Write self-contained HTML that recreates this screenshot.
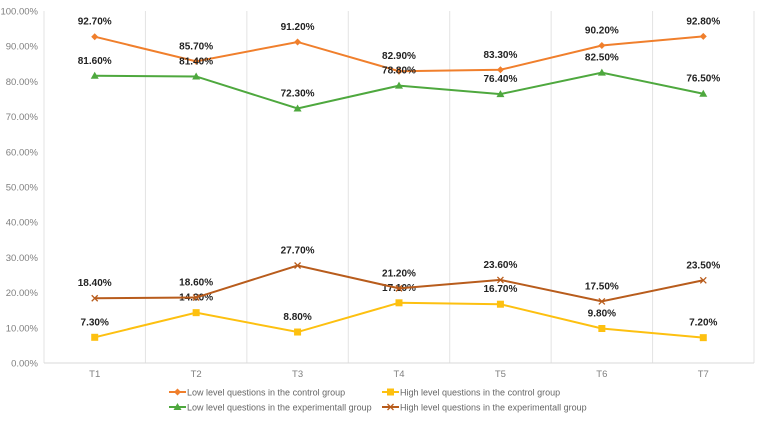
<!DOCTYPE html>
<html><head><meta charset="utf-8"><style>
body{margin:0;background:#fff;font-family:"Liberation Sans",sans-serif}
svg text{font-family:"Liberation Sans",sans-serif}
</style></head><body>
<svg id="c" width="761" height="419"></svg>
<script>
const categories=["T1","T2","T3","T4","T5","T6","T7"];
const lowControl=[92.7,85.7,91.2,82.9,83.3,90.2,92.8];
const highControl=[7.3,14.3,8.8,17.1,16.7,9.8,7.2];
const lowExp=[81.6,81.4,72.3,78.8,76.4,82.5,76.5];
const highExp=[18.4,18.6,27.7,21.2,23.6,17.5,23.5];
const yTicks=[0,10,20,30,40,50,60,70,80,90,100];
const names=["Low level questions in the control group","High level questions in the control group","Low level questions in the experimentall group","High level questions in the experimentall group"];
const L=44,R=754,T=11,B=363;
const svg=document.getElementById('c');const NS="http://www.w3.org/2000/svg";
function x(i){return L+(R-L)/categories.length*(i+0.5);}
function y(v){return B-(B-T)*v/100;}
function el(t,a,p){const e=document.createElementNS(NS,t);for(const k in a)e.setAttribute(k,a[k]);(p||svg).appendChild(e);return e;}
yTicks.forEach(v=>{const t=el('text',{x:38,y:y(v)+3.5,'text-anchor':'end','font-size':9.5,fill:'#7f7f7f'});t.textContent=v.toFixed(2)+'%';

});
for(let i=0;i<=categories.length;i++){const xx=L+(R-L)/categories.length*i;const g=el('line',{x1:xx,x2:xx,y1:T,y2:B,stroke:'#e3e3e3','stroke-width':1});

}
const ax=el('line',{x1:L,x2:R,y1:B,y2:B,stroke:'#d9d9d9'});


categories.forEach((c,i)=>{const t=el('text',{x:x(i),y:377,'text-anchor':'middle','font-size':9.5,fill:'#7f7f7f'});t.textContent=c;

});
const series=[[lowControl,'#f07f2c','diamond'],[highControl,'#fdc010','square'],[lowExp,'#4ea83e','triangle'],[highExp,'#b85c1c','x']];
function marker(type,cx,cy,col,g){
 if(type==='diamond')return el('polygon',{points:`${cx},${cy-3.5} ${cx+3.5},${cy} ${cx},${cy+3.5} ${cx-3.5},${cy}`,fill:col},g);
 if(type==='square')return el('rect',{x:cx-3.5,y:cy-3.5,width:7,height:7,fill:col},g);
 if(type==='triangle')return el('polygon',{points:`${cx},${cy-4} ${cx+4},${cy+3} ${cx-4},${cy+3}`,fill:col},g);
 const p=el('path',{d:`M${cx-3},${cy-3}L${cx+3},${cy+3}M${cx+3},${cy-3}L${cx-3},${cy+3}`,stroke:col,'stroke-width':1.3,fill:'none'},g);return p;}
series.forEach((s,si)=>{const g=el('g',{});


const d=s[0].map((v,i)=>(i?'L':'M')+x(i)+','+y(v)).join('');
const p=el('path',{d:d,stroke:s[1],'stroke-width':2,fill:'none'},g);


s[0].forEach((v,i)=>{const m=marker(s[2],x(i),y(v),s[1],g);


const t=el('text',{x:x(i),y:y(v)-12,'text-anchor':'middle','font-size':10,'font-weight':'bold',fill:'#222'},g);t.textContent=v.toFixed(2)+'%';

});});
const lp=[[169,392],[382,392],[169,407],[382,407]];
[0,1,2,3].forEach(k=>{const i=k;const pos=lp[k];const s=series[i];const g=el('g',{});


el('line',{x1:pos[0],x2:pos[0]+17,y1:pos[1],y2:pos[1],stroke:s[1],'stroke-width':2},g);
marker(s[2],pos[0]+8.5,pos[1],s[1],g);
const t=el('text',{x:pos[0]+18,y:pos[1]+3.5,'font-size':9,fill:'#666'},g);t.textContent=names[i];});
</script>
</body></html>
